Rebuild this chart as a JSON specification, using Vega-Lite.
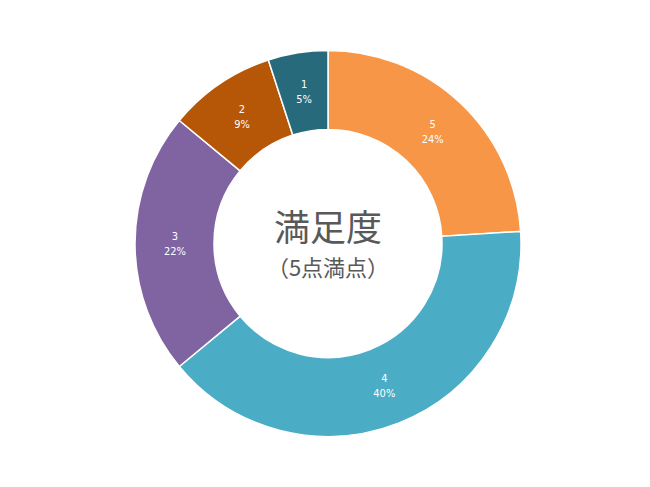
{
  "$schema": "https://vega.github.io/schema/vega-lite/v6.json",
  "width": 650,
  "height": 487,
  "autosize": {"type": "fit", "contains": "padding"},
  "padding": {"left": 6, "right": 0, "top": 0, "bottom": 0},
  "background": "white",
  "view": {"stroke": null},
  "layer": [
    {
      "data": {"name": "ratings", "values": [
        {"rating": "5", "pct": 24, "ord": 1, "label": "5\n24%"},
        {"rating": "4", "pct": 40, "ord": 2, "label": "4\n40%"},
        {"rating": "3", "pct": 22, "ord": 3, "label": "3\n22%"},
        {"rating": "2", "pct": 9, "ord": 4, "label": "2\n9%"},
        {"rating": "1", "pct": 5, "ord": 5, "label": "1\n5%"}
      ]},
      "layer": [
        {
          "mark": {"type": "arc", "outerRadius": 193, "innerRadius": 114, "stroke": "white", "strokeWidth": 1.5},
          "encoding": {
            "theta": {"field": "pct", "type": "quantitative", "stack": true},
            "order": {"field": "ord", "type": "quantitative"},
            "color": {
              "field": "rating", "type": "nominal",
              "scale": {"domain": ["5", "4", "3", "2", "1"], "range": ["#F79646", "#4BACC6", "#8064A2", "#B65708", "#276A7C"]},
              "legend": null
            }
          }
        },
        {
          "mark": {"type": "text", "radius": 153, "lineBreak": "\n", "lineHeight": 15, "fontSize": 11, "font": "Liberation Sans Narrow, DejaVu Sans Condensed, sans-serif", "color": "white", "align": "center", "baseline": "middle", "dy": -7},
          "encoding": {
            "theta": {"field": "pct", "type": "quantitative", "stack": true},
            "order": {"field": "ord", "type": "quantitative"},
            "text": {"field": "label", "type": "nominal"}
          }
        }
      ]
    },
    {
      "data": {"values": [{"t": "満足度"}]},
      "mark": {"type": "text", "fontSize": 36, "font": "Noto Sans CJK JP", "color": "#595959", "align": "center", "baseline": "middle", "dy": -14},
      "encoding": {"text": {"field": "t", "type": "nominal"}}
    },
    {
      "data": {"values": [{"t": "（5点満点）"}]},
      "mark": {"type": "text", "fontSize": 22, "font": "Noto Sans CJK JP", "color": "#595959", "align": "center", "baseline": "middle", "dy": 25},
      "encoding": {"text": {"field": "t", "type": "nominal"}}
    }
  ]
}
